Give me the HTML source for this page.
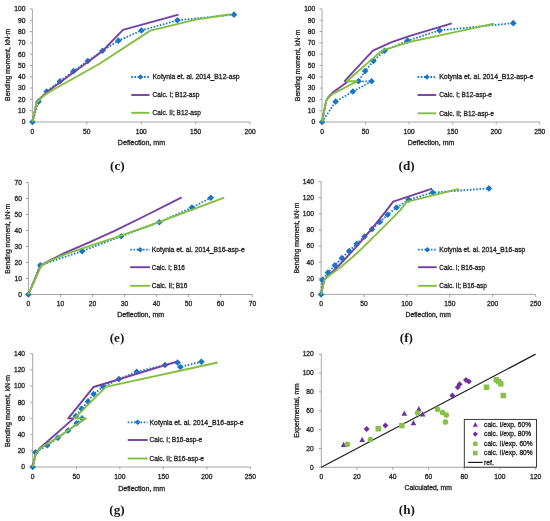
<!DOCTYPE html><html><head><meta charset="utf-8"><style>html,body{margin:0;padding:0;background:#fff;}svg{display:block;} text{font-family:"Liberation Sans",sans-serif;} text.cap{font-family:"Liberation Serif",serif;} svg{will-change:transform;filter:blur(0.35px);}</style></head><body>
<svg width="550" height="521" viewBox="0 0 550 521">
<rect width="550" height="521" fill="#fff"/>
<g stroke="#9c9c9c" stroke-width="0.9" fill="none">
<path d="M32.4,9V122H250.1"/>
<path d="M29.9,122h2.5M29.9,110.7h2.5M29.9,99.4h2.5M29.9,88.1h2.5M29.9,76.8h2.5M29.9,65.5h2.5M29.9,54.2h2.5M29.9,42.9h2.5M29.9,31.6h2.5M29.9,20.3h2.5M29.9,9h2.5M86.83,122v2.5M141.25,122v2.5M195.68,122v2.5M250.1,122v2.5"/>
</g>
<text x="25.4" y="124.3" font-size="6.7" text-anchor="end" fill="#262626" stroke="#262626" stroke-width="0.3">0</text>
<text x="25.4" y="113" font-size="6.7" text-anchor="end" fill="#262626" stroke="#262626" stroke-width="0.3">10</text>
<text x="25.4" y="101.7" font-size="6.7" text-anchor="end" fill="#262626" stroke="#262626" stroke-width="0.3">20</text>
<text x="25.4" y="90.4" font-size="6.7" text-anchor="end" fill="#262626" stroke="#262626" stroke-width="0.3">30</text>
<text x="25.4" y="79.1" font-size="6.7" text-anchor="end" fill="#262626" stroke="#262626" stroke-width="0.3">40</text>
<text x="25.4" y="67.8" font-size="6.7" text-anchor="end" fill="#262626" stroke="#262626" stroke-width="0.3">50</text>
<text x="25.4" y="56.5" font-size="6.7" text-anchor="end" fill="#262626" stroke="#262626" stroke-width="0.3">60</text>
<text x="25.4" y="45.2" font-size="6.7" text-anchor="end" fill="#262626" stroke="#262626" stroke-width="0.3">70</text>
<text x="25.4" y="33.9" font-size="6.7" text-anchor="end" fill="#262626" stroke="#262626" stroke-width="0.3">80</text>
<text x="25.4" y="22.6" font-size="6.7" text-anchor="end" fill="#262626" stroke="#262626" stroke-width="0.3">90</text>
<text x="25.4" y="11.3" font-size="6.7" text-anchor="end" fill="#262626" stroke="#262626" stroke-width="0.3">100</text>
<text x="32.4" y="134" font-size="6.7" text-anchor="middle" fill="#262626" stroke="#262626" stroke-width="0.3">0</text>
<text x="86.83" y="134" font-size="6.7" text-anchor="middle" fill="#262626" stroke="#262626" stroke-width="0.3">50</text>
<text x="141.25" y="134" font-size="6.7" text-anchor="middle" fill="#262626" stroke="#262626" stroke-width="0.3">100</text>
<text x="195.68" y="134" font-size="6.7" text-anchor="middle" fill="#262626" stroke="#262626" stroke-width="0.3">150</text>
<text x="250.1" y="134" font-size="6.7" text-anchor="middle" fill="#262626" stroke="#262626" stroke-width="0.3">200</text>
<text transform="translate(9.5,64.9) rotate(-90)" font-size="6.7" text-anchor="middle" fill="#262626" stroke="#262626" stroke-width="0.3" textLength="72" lengthAdjust="spacingAndGlyphs">Bending moment, kN·m</text>
<text x="141.5" y="145.3" font-size="6.7" text-anchor="middle" fill="#262626" stroke="#262626" stroke-width="0.3" textLength="47.3" lengthAdjust="spacingAndGlyphs">Deflection, mm</text>
<text x="117.4" y="170" font-size="13.2" text-anchor="middle" class="cap" fill="#1a1a1a" stroke="#1a1a1a" stroke-width="0" font-weight="bold">(c)</text>
<path d="M32.4,122 L38.5,101.66 L46.77,91.49 L59.94,81.32 L73.44,71.15 L87.8,60.98 L102.5,50.81 L118.39,40.64 L141.47,30.47 L177.5,20.3 L233.99,14.65" fill="none" stroke="#1777c6" stroke-width="1.8" stroke-linejoin="round" stroke-dasharray="1.6 1.6"/>
<path d="M32.4,118.7L35.7,122L32.4,125.3L29.1,122Z" fill="#1777c6"/>
<path d="M38.5,98.36L41.8,101.66L38.5,104.96L35.2,101.66Z" fill="#1777c6"/>
<path d="M46.77,88.19L50.07,91.49L46.77,94.79L43.47,91.49Z" fill="#1777c6"/>
<path d="M59.94,78.02L63.24,81.32L59.94,84.62L56.64,81.32Z" fill="#1777c6"/>
<path d="M73.44,67.85L76.74,71.15L73.44,74.45L70.14,71.15Z" fill="#1777c6"/>
<path d="M87.8,57.68L91.1,60.98L87.8,64.28L84.5,60.98Z" fill="#1777c6"/>
<path d="M102.5,47.51L105.8,50.81L102.5,54.11L99.2,50.81Z" fill="#1777c6"/>
<path d="M118.39,37.34L121.69,40.64L118.39,43.94L115.09,40.64Z" fill="#1777c6"/>
<path d="M141.47,27.17L144.77,30.47L141.47,33.77L138.17,30.47Z" fill="#1777c6"/>
<path d="M177.5,17L180.8,20.3L177.5,23.6L174.2,20.3Z" fill="#1777c6"/>
<path d="M233.99,11.35L237.29,14.65L233.99,17.95L230.69,14.65Z" fill="#1777c6"/>
<path d="M32.4,122 L36.65,102.34 L41.11,97.37 L46.55,92.28 L102.06,51.49 L122.96,29.91 L178.48,14.65" fill="none" stroke="#7440a4" stroke-width="1.9" stroke-linejoin="round"/>
<path d="M32.4,122 L36.65,102.45 L41.11,98.04 L46.55,93.52 L99.89,63.47 L150.28,30.58 L195.68,19.62 L230.51,14.31" fill="none" stroke="#82bf3e" stroke-width="1.9" stroke-linejoin="round"/>
<path d="M131.3,77H149.5" stroke="#1777c6" stroke-width="1.8" stroke-dasharray="1.6 1.6"/>
<path d="M140.4,74.2L143.2,77L140.4,79.8L137.6,77Z" fill="#1777c6"/>
<path d="M131.3,95H149.5" stroke="#7440a4" stroke-width="1.9"/>
<path d="M131.3,112.8H149.5" stroke="#82bf3e" stroke-width="1.9"/>
<text x="152.6" y="79.3" font-size="6.7" text-anchor="start" fill="#262626" stroke="#262626" stroke-width="0.3" textLength="87" lengthAdjust="spacingAndGlyphs">Kotynia et. al. 2014_B12-asp</text>
<text x="152.6" y="97.3" font-size="6.7" text-anchor="start" fill="#262626" stroke="#262626" stroke-width="0.3" textLength="46.8" lengthAdjust="spacingAndGlyphs">Calc. I; B12-asp</text>
<text x="152.6" y="115.1" font-size="6.7" text-anchor="start" fill="#262626" stroke="#262626" stroke-width="0.3" textLength="48.3" lengthAdjust="spacingAndGlyphs">Calc. II; B12-asp</text>
<g stroke="#9c9c9c" stroke-width="0.9" fill="none">
<path d="M322,8.9V122H539.75"/>
<path d="M319.5,122h2.5M319.5,110.69h2.5M319.5,99.38h2.5M319.5,88.07h2.5M319.5,76.76h2.5M319.5,65.45h2.5M319.5,54.14h2.5M319.5,42.83h2.5M319.5,31.52h2.5M319.5,20.21h2.5M319.5,8.9h2.5M365.55,122v2.5M409.1,122v2.5M452.65,122v2.5M496.2,122v2.5M539.75,122v2.5"/>
</g>
<text x="315.3" y="124.3" font-size="6.7" text-anchor="end" fill="#262626" stroke="#262626" stroke-width="0.3">0</text>
<text x="315.3" y="112.99" font-size="6.7" text-anchor="end" fill="#262626" stroke="#262626" stroke-width="0.3">10</text>
<text x="315.3" y="101.68" font-size="6.7" text-anchor="end" fill="#262626" stroke="#262626" stroke-width="0.3">20</text>
<text x="315.3" y="90.37" font-size="6.7" text-anchor="end" fill="#262626" stroke="#262626" stroke-width="0.3">30</text>
<text x="315.3" y="79.06" font-size="6.7" text-anchor="end" fill="#262626" stroke="#262626" stroke-width="0.3">40</text>
<text x="315.3" y="67.75" font-size="6.7" text-anchor="end" fill="#262626" stroke="#262626" stroke-width="0.3">50</text>
<text x="315.3" y="56.44" font-size="6.7" text-anchor="end" fill="#262626" stroke="#262626" stroke-width="0.3">60</text>
<text x="315.3" y="45.13" font-size="6.7" text-anchor="end" fill="#262626" stroke="#262626" stroke-width="0.3">70</text>
<text x="315.3" y="33.82" font-size="6.7" text-anchor="end" fill="#262626" stroke="#262626" stroke-width="0.3">80</text>
<text x="315.3" y="22.51" font-size="6.7" text-anchor="end" fill="#262626" stroke="#262626" stroke-width="0.3">90</text>
<text x="315.3" y="11.2" font-size="6.7" text-anchor="end" fill="#262626" stroke="#262626" stroke-width="0.3">100</text>
<text x="322" y="134" font-size="6.7" text-anchor="middle" fill="#262626" stroke="#262626" stroke-width="0.3">0</text>
<text x="365.55" y="134" font-size="6.7" text-anchor="middle" fill="#262626" stroke="#262626" stroke-width="0.3">50</text>
<text x="409.1" y="134" font-size="6.7" text-anchor="middle" fill="#262626" stroke="#262626" stroke-width="0.3">100</text>
<text x="452.65" y="134" font-size="6.7" text-anchor="middle" fill="#262626" stroke="#262626" stroke-width="0.3">150</text>
<text x="496.2" y="134" font-size="6.7" text-anchor="middle" fill="#262626" stroke="#262626" stroke-width="0.3">200</text>
<text x="539.75" y="134" font-size="6.7" text-anchor="middle" fill="#262626" stroke="#262626" stroke-width="0.3">250</text>
<text transform="translate(299.7,65.4) rotate(-90)" font-size="6.7" text-anchor="middle" fill="#262626" stroke="#262626" stroke-width="0.3" textLength="71.5" lengthAdjust="spacingAndGlyphs">Bending moment, kN·m</text>
<text x="431" y="145.3" font-size="6.7" text-anchor="middle" fill="#262626" stroke="#262626" stroke-width="0.3" textLength="46.6" lengthAdjust="spacingAndGlyphs">Deflection, mm</text>
<text x="406.6" y="170" font-size="13.2" text-anchor="middle" class="cap" fill="#1a1a1a" stroke="#1a1a1a" stroke-width="0" font-weight="bold">(d)</text>
<path d="M322,122 L335.59,101.64 L353.01,91.46 L371.56,81.28 L358.41,81.28 L365.11,71.1 L373.48,60.93 L384.54,50.75 L407.62,40.57 L439.58,30.39 L513.27,23.15" fill="none" stroke="#1777c6" stroke-width="1.8" stroke-linejoin="round" stroke-dasharray="1.6 1.6"/>
<path d="M322,118.7L325.3,122L322,125.3L318.7,122Z" fill="#1777c6"/>
<path d="M335.59,98.34L338.89,101.64L335.59,104.94L332.29,101.64Z" fill="#1777c6"/>
<path d="M353.01,88.16L356.31,91.46L353.01,94.76L349.71,91.46Z" fill="#1777c6"/>
<path d="M371.56,77.98L374.86,81.28L371.56,84.58L368.26,81.28Z" fill="#1777c6"/>
<path d="M358.41,77.98L361.71,81.28L358.41,84.58L355.11,81.28Z" fill="#1777c6"/>
<path d="M365.11,67.8L368.41,71.1L365.11,74.4L361.81,71.1Z" fill="#1777c6"/>
<path d="M373.48,57.63L376.78,60.93L373.48,64.23L370.18,60.93Z" fill="#1777c6"/>
<path d="M384.54,47.45L387.84,50.75L384.54,54.05L381.24,50.75Z" fill="#1777c6"/>
<path d="M407.62,37.27L410.92,40.57L407.62,43.87L404.32,40.57Z" fill="#1777c6"/>
<path d="M439.58,27.09L442.88,30.39L439.58,33.69L436.28,30.39Z" fill="#1777c6"/>
<path d="M513.27,19.85L516.57,23.15L513.27,26.45L509.97,23.15Z" fill="#1777c6"/>
<path d="M322,122 L326.18,100.85 L328.1,97.46 L332.36,92.82 L347.26,81.96 L344.65,81.06 L372.87,50.63 L391.68,42.15 L409.97,35.82 L451.78,23.38" fill="none" stroke="#7440a4" stroke-width="1.9" stroke-linejoin="round"/>
<path d="M322,122 L326.18,100.85 L328.1,97.91 L332.36,94.18 L357.19,81.28 L346.65,81.28 L381.66,50.86 L385.58,49.16 L389.94,48.15 L409.97,41.93 L452.65,32.65 L494.02,23.6" fill="none" stroke="#82bf3e" stroke-width="1.9" stroke-linejoin="round"/>
<path d="M417.6,77H436.2" stroke="#1777c6" stroke-width="1.8" stroke-dasharray="1.6 1.6"/>
<path d="M426.9,74.2L429.7,77L426.9,79.8L424.1,77Z" fill="#1777c6"/>
<path d="M417.6,95H436.2" stroke="#7440a4" stroke-width="1.9"/>
<path d="M417.6,113.3H436.2" stroke="#82bf3e" stroke-width="1.9"/>
<text x="439.3" y="79.3" font-size="6.7" text-anchor="start" fill="#262626" stroke="#262626" stroke-width="0.3" textLength="94.1" lengthAdjust="spacingAndGlyphs">Kotynia et. al. 2014_B12-asp-e</text>
<text x="439.3" y="97.3" font-size="6.7" text-anchor="start" fill="#262626" stroke="#262626" stroke-width="0.3" textLength="52.7" lengthAdjust="spacingAndGlyphs">Calc. I; B12-asp-e</text>
<text x="439.3" y="115.6" font-size="6.7" text-anchor="start" fill="#262626" stroke="#262626" stroke-width="0.3" textLength="54.7" lengthAdjust="spacingAndGlyphs">Calc. II; B12-asp-e</text>
<g stroke="#9c9c9c" stroke-width="0.9" fill="none">
<path d="M28.4,182.5V294.5H252.4"/>
<path d="M25.9,294.5h2.5M25.9,278.5h2.5M25.9,262.5h2.5M25.9,246.5h2.5M25.9,230.5h2.5M25.9,214.5h2.5M25.9,198.5h2.5M25.9,182.5h2.5M60.4,294.5v2.5M92.4,294.5v2.5M124.4,294.5v2.5M156.4,294.5v2.5M188.4,294.5v2.5M220.4,294.5v2.5M252.4,294.5v2.5"/>
</g>
<text x="21.9" y="296.8" font-size="6.7" text-anchor="end" fill="#262626" stroke="#262626" stroke-width="0.3">0</text>
<text x="21.9" y="280.8" font-size="6.7" text-anchor="end" fill="#262626" stroke="#262626" stroke-width="0.3">10</text>
<text x="21.9" y="264.8" font-size="6.7" text-anchor="end" fill="#262626" stroke="#262626" stroke-width="0.3">20</text>
<text x="21.9" y="248.8" font-size="6.7" text-anchor="end" fill="#262626" stroke="#262626" stroke-width="0.3">30</text>
<text x="21.9" y="232.8" font-size="6.7" text-anchor="end" fill="#262626" stroke="#262626" stroke-width="0.3">40</text>
<text x="21.9" y="216.8" font-size="6.7" text-anchor="end" fill="#262626" stroke="#262626" stroke-width="0.3">50</text>
<text x="21.9" y="200.8" font-size="6.7" text-anchor="end" fill="#262626" stroke="#262626" stroke-width="0.3">60</text>
<text x="21.9" y="184.8" font-size="6.7" text-anchor="end" fill="#262626" stroke="#262626" stroke-width="0.3">70</text>
<text x="28.4" y="305.9" font-size="6.7" text-anchor="middle" fill="#262626" stroke="#262626" stroke-width="0.3">0</text>
<text x="60.4" y="305.9" font-size="6.7" text-anchor="middle" fill="#262626" stroke="#262626" stroke-width="0.3">10</text>
<text x="92.4" y="305.9" font-size="6.7" text-anchor="middle" fill="#262626" stroke="#262626" stroke-width="0.3">20</text>
<text x="124.4" y="305.9" font-size="6.7" text-anchor="middle" fill="#262626" stroke="#262626" stroke-width="0.3">30</text>
<text x="156.4" y="305.9" font-size="6.7" text-anchor="middle" fill="#262626" stroke="#262626" stroke-width="0.3">40</text>
<text x="188.4" y="305.9" font-size="6.7" text-anchor="middle" fill="#262626" stroke="#262626" stroke-width="0.3">50</text>
<text x="220.4" y="305.9" font-size="6.7" text-anchor="middle" fill="#262626" stroke="#262626" stroke-width="0.3">60</text>
<text x="252.4" y="305.9" font-size="6.7" text-anchor="middle" fill="#262626" stroke="#262626" stroke-width="0.3">70</text>
<text transform="translate(9.8,238.7) rotate(-90)" font-size="6.7" text-anchor="middle" fill="#262626" stroke="#262626" stroke-width="0.3" textLength="70" lengthAdjust="spacingAndGlyphs">Bending moment, kN·m</text>
<text x="140.7" y="316.8" font-size="6.7" text-anchor="middle" fill="#262626" stroke="#262626" stroke-width="0.3" textLength="46.9" lengthAdjust="spacingAndGlyphs">Deflection, mm</text>
<text x="117" y="341.7" font-size="13.2" text-anchor="middle" class="cap" fill="#1a1a1a" stroke="#1a1a1a" stroke-width="0" font-weight="bold">(e)</text>
<path d="M28.4,294.5 L40.24,265.22 L82.16,251.14 L121.2,236.26 L159.28,222.18 L191.92,207.62 L210.8,197.7" fill="none" stroke="#1777c6" stroke-width="1.8" stroke-linejoin="round" stroke-dasharray="1.6 1.6"/>
<path d="M28.4,291.2L31.7,294.5L28.4,297.8L25.1,294.5Z" fill="#1777c6"/>
<path d="M40.24,261.92L43.54,265.22L40.24,268.52L36.94,265.22Z" fill="#1777c6"/>
<path d="M82.16,247.84L85.46,251.14L82.16,254.44L78.86,251.14Z" fill="#1777c6"/>
<path d="M121.2,232.96L124.5,236.26L121.2,239.56L117.9,236.26Z" fill="#1777c6"/>
<path d="M159.28,218.88L162.58,222.18L159.28,225.48L155.98,222.18Z" fill="#1777c6"/>
<path d="M191.92,204.32L195.22,207.62L191.92,210.92L188.62,207.62Z" fill="#1777c6"/>
<path d="M210.8,194.4L214.1,197.7L210.8,201L207.5,197.7Z" fill="#1777c6"/>
<path d="M28.4,294.5 L40.56,265.7 L50.8,259.94 L64.24,253.22 L89.2,242.34 L115.12,230.66 L146.8,214.98 L181.68,197.38" fill="none" stroke="#7440a4" stroke-width="1.9" stroke-linejoin="round"/>
<path d="M28.4,294.5 L41.2,265.7 L50.8,260.42 L64.24,254.66 L83.12,248.1 L115.12,237.7 L159.6,221.86 L224.24,197.7" fill="none" stroke="#82bf3e" stroke-width="1.9" stroke-linejoin="round"/>
<path d="M130.2,249.7H150" stroke="#1777c6" stroke-width="1.8" stroke-dasharray="1.6 1.6"/>
<path d="M140.1,246.9L142.9,249.7L140.1,252.5L137.3,249.7Z" fill="#1777c6"/>
<path d="M130.2,267.2H150" stroke="#7440a4" stroke-width="1.9"/>
<path d="M130.2,285.8H150" stroke="#82bf3e" stroke-width="1.9"/>
<text x="151.8" y="252" font-size="6.7" text-anchor="start" fill="#262626" stroke="#262626" stroke-width="0.3" textLength="92.9" lengthAdjust="spacingAndGlyphs">Kotynia et. al. 2014_B16-asp-e</text>
<text x="151.8" y="269.5" font-size="6.7" text-anchor="start" fill="#262626" stroke="#262626" stroke-width="0.3" textLength="33.1" lengthAdjust="spacingAndGlyphs">Calc. I; B16</text>
<text x="151.8" y="288.1" font-size="6.7" text-anchor="start" fill="#262626" stroke="#262626" stroke-width="0.3" textLength="35.6" lengthAdjust="spacingAndGlyphs">Calc. II; B16</text>
<g stroke="#9c9c9c" stroke-width="0.9" fill="none">
<path d="M321.1,181.7V294.4H535.6"/>
<path d="M318.6,294.4h2.5M318.6,278.3h2.5M318.6,262.2h2.5M318.6,246.1h2.5M318.6,230h2.5M318.6,213.9h2.5M318.6,197.8h2.5M318.6,181.7h2.5M364,294.4v2.5M406.9,294.4v2.5M449.8,294.4v2.5M492.7,294.4v2.5M535.6,294.4v2.5"/>
</g>
<text x="314" y="296.7" font-size="6.7" text-anchor="end" fill="#262626" stroke="#262626" stroke-width="0.3">0</text>
<text x="314" y="280.6" font-size="6.7" text-anchor="end" fill="#262626" stroke="#262626" stroke-width="0.3">20</text>
<text x="314" y="264.5" font-size="6.7" text-anchor="end" fill="#262626" stroke="#262626" stroke-width="0.3">40</text>
<text x="314" y="248.4" font-size="6.7" text-anchor="end" fill="#262626" stroke="#262626" stroke-width="0.3">60</text>
<text x="314" y="232.3" font-size="6.7" text-anchor="end" fill="#262626" stroke="#262626" stroke-width="0.3">80</text>
<text x="314" y="216.2" font-size="6.7" text-anchor="end" fill="#262626" stroke="#262626" stroke-width="0.3">100</text>
<text x="314" y="200.1" font-size="6.7" text-anchor="end" fill="#262626" stroke="#262626" stroke-width="0.3">120</text>
<text x="314" y="184" font-size="6.7" text-anchor="end" fill="#262626" stroke="#262626" stroke-width="0.3">140</text>
<text x="321.1" y="305.9" font-size="6.7" text-anchor="middle" fill="#262626" stroke="#262626" stroke-width="0.3">0</text>
<text x="364" y="305.9" font-size="6.7" text-anchor="middle" fill="#262626" stroke="#262626" stroke-width="0.3">50</text>
<text x="406.9" y="305.9" font-size="6.7" text-anchor="middle" fill="#262626" stroke="#262626" stroke-width="0.3">100</text>
<text x="449.8" y="305.9" font-size="6.7" text-anchor="middle" fill="#262626" stroke="#262626" stroke-width="0.3">150</text>
<text x="492.7" y="305.9" font-size="6.7" text-anchor="middle" fill="#262626" stroke="#262626" stroke-width="0.3">200</text>
<text x="535.6" y="305.9" font-size="6.7" text-anchor="middle" fill="#262626" stroke="#262626" stroke-width="0.3">250</text>
<text transform="translate(299,238) rotate(-90)" font-size="6.7" text-anchor="middle" fill="#262626" stroke="#262626" stroke-width="0.3" textLength="71" lengthAdjust="spacingAndGlyphs">Bending moment, kN·m</text>
<text x="428.2" y="317.2" font-size="6.7" text-anchor="middle" fill="#262626" stroke="#262626" stroke-width="0.3" textLength="45.4" lengthAdjust="spacingAndGlyphs">Deflection, mm</text>
<text x="406.4" y="341.7" font-size="13.2" text-anchor="middle" class="cap" fill="#1a1a1a" stroke="#1a1a1a" stroke-width="0" font-weight="bold">(f)</text>
<path d="M321.1,294.4 L322.3,279.91 L327.88,272.66 L334.83,265.42 L341.86,258.17 L349.16,250.93 L356.79,243.68 L364.51,236.44 L371.98,229.19 L379.87,221.95 L387.6,214.7 L396.6,207.46 L408.53,199.81 L432.64,192.57 L488.92,188.38" fill="none" stroke="#1777c6" stroke-width="1.8" stroke-linejoin="round" stroke-dasharray="1.6 1.6"/>
<path d="M321.1,291.1L324.4,294.4L321.1,297.7L317.8,294.4Z" fill="#1777c6"/>
<path d="M322.3,276.61L325.6,279.91L322.3,283.21L319,279.91Z" fill="#1777c6"/>
<path d="M327.88,269.36L331.18,272.66L327.88,275.96L324.58,272.66Z" fill="#1777c6"/>
<path d="M334.83,262.12L338.13,265.42L334.83,268.72L331.53,265.42Z" fill="#1777c6"/>
<path d="M341.86,254.87L345.16,258.17L341.86,261.47L338.56,258.17Z" fill="#1777c6"/>
<path d="M349.16,247.63L352.46,250.93L349.16,254.23L345.86,250.93Z" fill="#1777c6"/>
<path d="M356.79,240.38L360.09,243.68L356.79,246.98L353.49,243.68Z" fill="#1777c6"/>
<path d="M364.51,233.14L367.81,236.44L364.51,239.74L361.21,236.44Z" fill="#1777c6"/>
<path d="M371.98,225.89L375.28,229.19L371.98,232.5L368.68,229.19Z" fill="#1777c6"/>
<path d="M379.87,218.65L383.17,221.95L379.87,225.25L376.57,221.95Z" fill="#1777c6"/>
<path d="M387.6,211.4L390.9,214.7L387.6,218L384.3,214.7Z" fill="#1777c6"/>
<path d="M396.6,204.16L399.9,207.46L396.6,210.76L393.3,207.46Z" fill="#1777c6"/>
<path d="M408.53,196.51L411.83,199.81L408.53,203.11L405.23,199.81Z" fill="#1777c6"/>
<path d="M432.64,189.27L435.94,192.57L432.64,195.87L429.34,192.57Z" fill="#1777c6"/>
<path d="M488.92,185.08L492.22,188.38L488.92,191.68L485.62,188.38Z" fill="#1777c6"/>
<path d="M321.1,294.4 L324.36,279.59 L329.68,274.53 L336.54,267.77 L343.41,260.73 L350.27,253.43 L357.14,245.84 L364,237.99 L370.86,229.86 L377.73,221.47 L384.59,212.81 L393.17,201.58 L432.21,188.54" fill="none" stroke="#7440a4" stroke-width="1.9" stroke-linejoin="round"/>
<path d="M321.1,294.4 L324.36,279.59 L330.88,274.19 L341.78,266.22 L352.67,256.97 L363.57,246.9 L377.73,232.82 L389.74,220.9 L400.29,210.04 L406.73,201.82 L458.89,188.94" fill="none" stroke="#82bf3e" stroke-width="1.9" stroke-linejoin="round"/>
<path d="M418.1,249.7H436.7" stroke="#1777c6" stroke-width="1.8" stroke-dasharray="1.6 1.6"/>
<path d="M427.4,246.9L430.2,249.7L427.4,252.5L424.6,249.7Z" fill="#1777c6"/>
<path d="M418.1,267.2H436.7" stroke="#7440a4" stroke-width="1.9"/>
<path d="M418.1,285.8H436.7" stroke="#82bf3e" stroke-width="1.9"/>
<text x="439.3" y="252" font-size="6.7" text-anchor="start" fill="#262626" stroke="#262626" stroke-width="0.3" textLength="86" lengthAdjust="spacingAndGlyphs">Kotynia et. al. 2014_B16-asp</text>
<text x="439.3" y="269.5" font-size="6.7" text-anchor="start" fill="#262626" stroke="#262626" stroke-width="0.3" textLength="45.7" lengthAdjust="spacingAndGlyphs">Calc. I; B16-asp</text>
<text x="439.3" y="288.1" font-size="6.7" text-anchor="start" fill="#262626" stroke="#262626" stroke-width="0.3" textLength="47.5" lengthAdjust="spacingAndGlyphs">Calc. II; B16-asp</text>
<g stroke="#9c9c9c" stroke-width="0.9" fill="none">
<path d="M32.7,353.6V467H250.45"/>
<path d="M30.2,467h2.5M30.2,450.8h2.5M30.2,434.6h2.5M30.2,418.4h2.5M30.2,402.2h2.5M30.2,386h2.5M30.2,369.8h2.5M30.2,353.6h2.5M76.25,467v2.5M119.8,467v2.5M163.35,467v2.5M206.9,467v2.5M250.45,467v2.5"/>
</g>
<text x="25.1" y="469.3" font-size="6.7" text-anchor="end" fill="#262626" stroke="#262626" stroke-width="0.3">0</text>
<text x="25.1" y="453.1" font-size="6.7" text-anchor="end" fill="#262626" stroke="#262626" stroke-width="0.3">20</text>
<text x="25.1" y="436.9" font-size="6.7" text-anchor="end" fill="#262626" stroke="#262626" stroke-width="0.3">40</text>
<text x="25.1" y="420.7" font-size="6.7" text-anchor="end" fill="#262626" stroke="#262626" stroke-width="0.3">60</text>
<text x="25.1" y="404.5" font-size="6.7" text-anchor="end" fill="#262626" stroke="#262626" stroke-width="0.3">80</text>
<text x="25.1" y="388.3" font-size="6.7" text-anchor="end" fill="#262626" stroke="#262626" stroke-width="0.3">100</text>
<text x="25.1" y="372.1" font-size="6.7" text-anchor="end" fill="#262626" stroke="#262626" stroke-width="0.3">120</text>
<text x="25.1" y="355.9" font-size="6.7" text-anchor="end" fill="#262626" stroke="#262626" stroke-width="0.3">140</text>
<text x="32.7" y="478.8" font-size="6.7" text-anchor="middle" fill="#262626" stroke="#262626" stroke-width="0.3">0</text>
<text x="76.25" y="478.8" font-size="6.7" text-anchor="middle" fill="#262626" stroke="#262626" stroke-width="0.3">50</text>
<text x="119.8" y="478.8" font-size="6.7" text-anchor="middle" fill="#262626" stroke="#262626" stroke-width="0.3">100</text>
<text x="163.35" y="478.8" font-size="6.7" text-anchor="middle" fill="#262626" stroke="#262626" stroke-width="0.3">150</text>
<text x="206.9" y="478.8" font-size="6.7" text-anchor="middle" fill="#262626" stroke="#262626" stroke-width="0.3">200</text>
<text x="250.45" y="478.8" font-size="6.7" text-anchor="middle" fill="#262626" stroke="#262626" stroke-width="0.3">250</text>
<text transform="translate(9.7,411) rotate(-90)" font-size="6.7" text-anchor="middle" fill="#262626" stroke="#262626" stroke-width="0.3" textLength="72" lengthAdjust="spacingAndGlyphs">Bending moment, kN·m</text>
<text x="141.6" y="490.5" font-size="6.7" text-anchor="middle" fill="#262626" stroke="#262626" stroke-width="0.3" textLength="46.9" lengthAdjust="spacingAndGlyphs">Deflection, mm</text>
<text x="117" y="514" font-size="13.2" text-anchor="middle" class="cap" fill="#1a1a1a" stroke="#1a1a1a" stroke-width="0" font-weight="bold">(g)</text>
<path d="M32.7,467 L35.49,452.42 L47.33,445.13 L57.78,437.84 L68.15,430.55 L76.86,423.26 L82.09,418.4 L75.81,415.97 L81.56,408.68 L88.01,401.39 L93.67,394.1 L103.16,386.81 L118.93,379.12 L136.7,371.82 L165.09,364.94 L177.63,362.51 L180.33,366.96 L201.41,361.7" fill="none" stroke="#1777c6" stroke-width="1.8" stroke-linejoin="round" stroke-dasharray="1.6 1.6"/>
<path d="M32.7,463.7L36,467L32.7,470.3L29.4,467Z" fill="#1777c6"/>
<path d="M35.49,449.12L38.79,452.42L35.49,455.72L32.19,452.42Z" fill="#1777c6"/>
<path d="M47.33,441.83L50.63,445.13L47.33,448.43L44.03,445.13Z" fill="#1777c6"/>
<path d="M57.78,434.54L61.08,437.84L57.78,441.14L54.48,437.84Z" fill="#1777c6"/>
<path d="M68.15,427.25L71.45,430.55L68.15,433.85L64.85,430.55Z" fill="#1777c6"/>
<path d="M76.86,419.96L80.16,423.26L76.86,426.56L73.56,423.26Z" fill="#1777c6"/>
<path d="M82.09,415.1L85.39,418.4L82.09,421.7L78.79,418.4Z" fill="#1777c6"/>
<path d="M75.81,412.67L79.11,415.97L75.81,419.27L72.51,415.97Z" fill="#1777c6"/>
<path d="M81.56,405.38L84.86,408.68L81.56,411.98L78.26,408.68Z" fill="#1777c6"/>
<path d="M88.01,398.09L91.31,401.39L88.01,404.69L84.71,401.39Z" fill="#1777c6"/>
<path d="M93.67,390.8L96.97,394.1L93.67,397.4L90.37,394.1Z" fill="#1777c6"/>
<path d="M103.16,383.51L106.46,386.81L103.16,390.11L99.86,386.81Z" fill="#1777c6"/>
<path d="M118.93,375.81L122.23,379.12L118.93,382.42L115.63,379.12Z" fill="#1777c6"/>
<path d="M136.7,368.52L140,371.82L136.7,375.12L133.4,371.82Z" fill="#1777c6"/>
<path d="M165.09,361.64L168.39,364.94L165.09,368.24L161.79,364.94Z" fill="#1777c6"/>
<path d="M177.63,359.21L180.93,362.51L177.63,365.81L174.33,362.51Z" fill="#1777c6"/>
<path d="M180.33,363.66L183.63,366.96L180.33,370.26L177.03,366.96Z" fill="#1777c6"/>
<path d="M201.41,358.4L204.71,361.7L201.41,365L198.11,361.7Z" fill="#1777c6"/>
<path d="M32.7,467 L35.75,453.88 L39.49,448.53 L73.64,418.4 L68.24,418.4 L93.67,386.97 L176.76,361.7" fill="none" stroke="#7440a4" stroke-width="1.9" stroke-linejoin="round"/>
<path d="M32.7,467 L35.75,454.04 L39.49,449.02 L47.16,443.83 L57.09,437.84 L67.98,430.55 L85.83,418.4 L74.42,418.4 L105.86,386.81 L217.7,362.51" fill="none" stroke="#82bf3e" stroke-width="1.9" stroke-linejoin="round"/>
<path d="M127.7,422.3H147.6" stroke="#1777c6" stroke-width="1.8" stroke-dasharray="1.6 1.6"/>
<path d="M137.65,419.5L140.45,422.3L137.65,425.1L134.85,422.3Z" fill="#1777c6"/>
<path d="M127.7,440H147.6" stroke="#7440a4" stroke-width="1.9"/>
<path d="M127.7,458.5H147.6" stroke="#82bf3e" stroke-width="1.9"/>
<text x="149.5" y="424.6" font-size="6.7" text-anchor="start" fill="#262626" stroke="#262626" stroke-width="0.3" textLength="94.1" lengthAdjust="spacingAndGlyphs">Kotynia et. al. 2014_B16-asp-e</text>
<text x="149.5" y="442.3" font-size="6.7" text-anchor="start" fill="#262626" stroke="#262626" stroke-width="0.3" textLength="52.7" lengthAdjust="spacingAndGlyphs">Calc. I; B16-asp-e</text>
<text x="149.5" y="460.8" font-size="6.7" text-anchor="start" fill="#262626" stroke="#262626" stroke-width="0.3" textLength="54.5" lengthAdjust="spacingAndGlyphs">Calc. II; B16-asp-e</text>
<g stroke="#9c9c9c" stroke-width="0.9" fill="none">
<path d="M321.3,354.14V467.3H535.62"/>
<path d="M318.8,467.3h2.5M318.8,448.44h2.5M318.8,429.58h2.5M318.8,410.72h2.5M318.8,391.86h2.5M318.8,373h2.5M318.8,354.14h2.5M357.02,467.3v2.5M392.74,467.3v2.5M428.46,467.3v2.5M464.18,467.3v2.5M499.9,467.3v2.5M535.62,467.3v2.5"/>
</g>
<text x="313.8" y="469.6" font-size="6.7" text-anchor="end" fill="#262626" stroke="#262626" stroke-width="0.3">0</text>
<text x="313.8" y="450.74" font-size="6.7" text-anchor="end" fill="#262626" stroke="#262626" stroke-width="0.3">20</text>
<text x="313.8" y="431.88" font-size="6.7" text-anchor="end" fill="#262626" stroke="#262626" stroke-width="0.3">40</text>
<text x="313.8" y="413.02" font-size="6.7" text-anchor="end" fill="#262626" stroke="#262626" stroke-width="0.3">60</text>
<text x="313.8" y="394.16" font-size="6.7" text-anchor="end" fill="#262626" stroke="#262626" stroke-width="0.3">80</text>
<text x="313.8" y="375.3" font-size="6.7" text-anchor="end" fill="#262626" stroke="#262626" stroke-width="0.3">100</text>
<text x="313.8" y="356.44" font-size="6.7" text-anchor="end" fill="#262626" stroke="#262626" stroke-width="0.3">120</text>
<text x="321.3" y="478.7" font-size="6.7" text-anchor="middle" fill="#262626" stroke="#262626" stroke-width="0.3">0</text>
<text x="357.02" y="478.7" font-size="6.7" text-anchor="middle" fill="#262626" stroke="#262626" stroke-width="0.3">20</text>
<text x="392.74" y="478.7" font-size="6.7" text-anchor="middle" fill="#262626" stroke="#262626" stroke-width="0.3">40</text>
<text x="428.46" y="478.7" font-size="6.7" text-anchor="middle" fill="#262626" stroke="#262626" stroke-width="0.3">60</text>
<text x="464.18" y="478.7" font-size="6.7" text-anchor="middle" fill="#262626" stroke="#262626" stroke-width="0.3">80</text>
<text x="499.9" y="478.7" font-size="6.7" text-anchor="middle" fill="#262626" stroke="#262626" stroke-width="0.3">100</text>
<text x="535.62" y="478.7" font-size="6.7" text-anchor="middle" fill="#262626" stroke="#262626" stroke-width="0.3">120</text>
<text transform="translate(299,410.5) rotate(-90)" font-size="6.7" text-anchor="middle" fill="#262626" stroke="#262626" stroke-width="0.3" textLength="54.5" lengthAdjust="spacingAndGlyphs">Experimental, mm</text>
<text x="428.2" y="489.9" font-size="6.7" text-anchor="middle" fill="#262626" stroke="#262626" stroke-width="0.3" textLength="47.3" lengthAdjust="spacingAndGlyphs">Calculated, mm</text>
<text x="406.8" y="514" font-size="13.2" text-anchor="middle" class="cap" fill="#1a1a1a" stroke="#1a1a1a" stroke-width="0" font-weight="bold">(h)</text>
<path d="M321.3,467.3L535.62,354.14" stroke="#1a1a1a" stroke-width="1.2"/>
<path d="M343.62,441.66L346.43,447L340.82,447Z" fill="#7030a0"/>
<path d="M362.2,436.76L365,442.1L359.4,442.1Z" fill="#7030a0"/>
<path d="M404.35,410.45L407.15,415.79L401.55,415.79Z" fill="#7030a0"/>
<path d="M413.46,419.88L416.26,425.22L410.66,425.22Z" fill="#7030a0"/>
<path d="M418.82,406.11L421.62,411.45L416.02,411.45Z" fill="#7030a0"/>
<path d="M422.57,411.2L425.37,416.54L419.77,416.54Z" fill="#7030a0"/>
<path d="M366.66,426.11L369.66,429.11L366.66,432.11L363.66,429.11Z" fill="#7030a0"/>
<path d="M385.42,422.53L388.42,425.53L385.42,428.53L382.42,425.53Z" fill="#7030a0"/>
<path d="M452.39,392.54L455.39,395.54L452.39,398.54L449.39,395.54Z" fill="#7030a0"/>
<path d="M457.75,384.24L460.75,387.24L457.75,390.24L454.75,387.24Z" fill="#7030a0"/>
<path d="M459.54,381.32L462.54,384.32L459.54,387.32L456.54,384.32Z" fill="#7030a0"/>
<path d="M465.97,376.88L468.97,379.88L465.97,382.88L462.97,379.88Z" fill="#7030a0"/>
<path d="M468.82,378.58L471.82,381.58L468.82,384.58L465.82,381.58Z" fill="#7030a0"/>
<circle cx="347.38" cy="444.2" r="2.8" fill="#86c24a"/>
<circle cx="370.42" cy="439.48" r="2.8" fill="#86c24a"/>
<circle cx="417.57" cy="412.98" r="2.8" fill="#86c24a"/>
<circle cx="437.57" cy="409.31" r="2.8" fill="#86c24a"/>
<circle cx="442.57" cy="412.51" r="2.8" fill="#86c24a"/>
<circle cx="446.32" cy="414.96" r="2.8" fill="#86c24a"/>
<circle cx="445.43" cy="422.04" r="2.8" fill="#86c24a"/>
<rect x="375.52" y="425.98" width="5.5" height="5.5" fill="#86c24a"/>
<rect x="399.1" y="422.78" width="5.5" height="5.5" fill="#86c24a"/>
<rect x="483.75" y="384.49" width="5.5" height="5.5" fill="#86c24a"/>
<rect x="493.58" y="377.13" width="5.5" height="5.5" fill="#86c24a"/>
<rect x="496.08" y="378.83" width="5.5" height="5.5" fill="#86c24a"/>
<rect x="498.04" y="381.09" width="5.5" height="5.5" fill="#86c24a"/>
<rect x="500.54" y="392.79" width="5.5" height="5.5" fill="#86c24a"/>
<rect x="464.3" y="419.4" width="72.2" height="47.8" fill="#fff" stroke="#262626" stroke-width="0.9"/>
<path d="M475.3,422.05L477.8,426.85L472.8,426.85Z" fill="#7030a0"/>
<path d="M475.3,431.5L477.9,434.1L475.3,436.7L472.7,434.1Z" fill="#7030a0"/>
<circle cx="475.3" cy="443.7" r="2.5" fill="#86c24a"/>
<rect x="473" y="450.8" width="4.6" height="4.6" fill="#86c24a"/>
<path d="M468.1,462.4H482.8" stroke="#1a1a1a" stroke-width="1.2"/>
<text x="484.1" y="426.9" font-size="6.7" text-anchor="start" fill="#262626" stroke="#262626" stroke-width="0.3" textLength="47" lengthAdjust="spacingAndGlyphs">calc. I/exp. 60%</text>
<text x="484.1" y="436.4" font-size="6.7" text-anchor="start" fill="#262626" stroke="#262626" stroke-width="0.3" textLength="47" lengthAdjust="spacingAndGlyphs">calc. I/exp. 80%</text>
<text x="484.1" y="446" font-size="6.7" text-anchor="start" fill="#262626" stroke="#262626" stroke-width="0.3" textLength="48.6" lengthAdjust="spacingAndGlyphs">calc. II/exp. 60%</text>
<text x="484.1" y="455.4" font-size="6.7" text-anchor="start" fill="#262626" stroke="#262626" stroke-width="0.3" textLength="48.6" lengthAdjust="spacingAndGlyphs">calc. II/exp. 80%</text>
<text x="484.1" y="464.7" font-size="6.7" text-anchor="start" fill="#262626" stroke="#262626" stroke-width="0.3">ref.</text>
</svg></body></html>
